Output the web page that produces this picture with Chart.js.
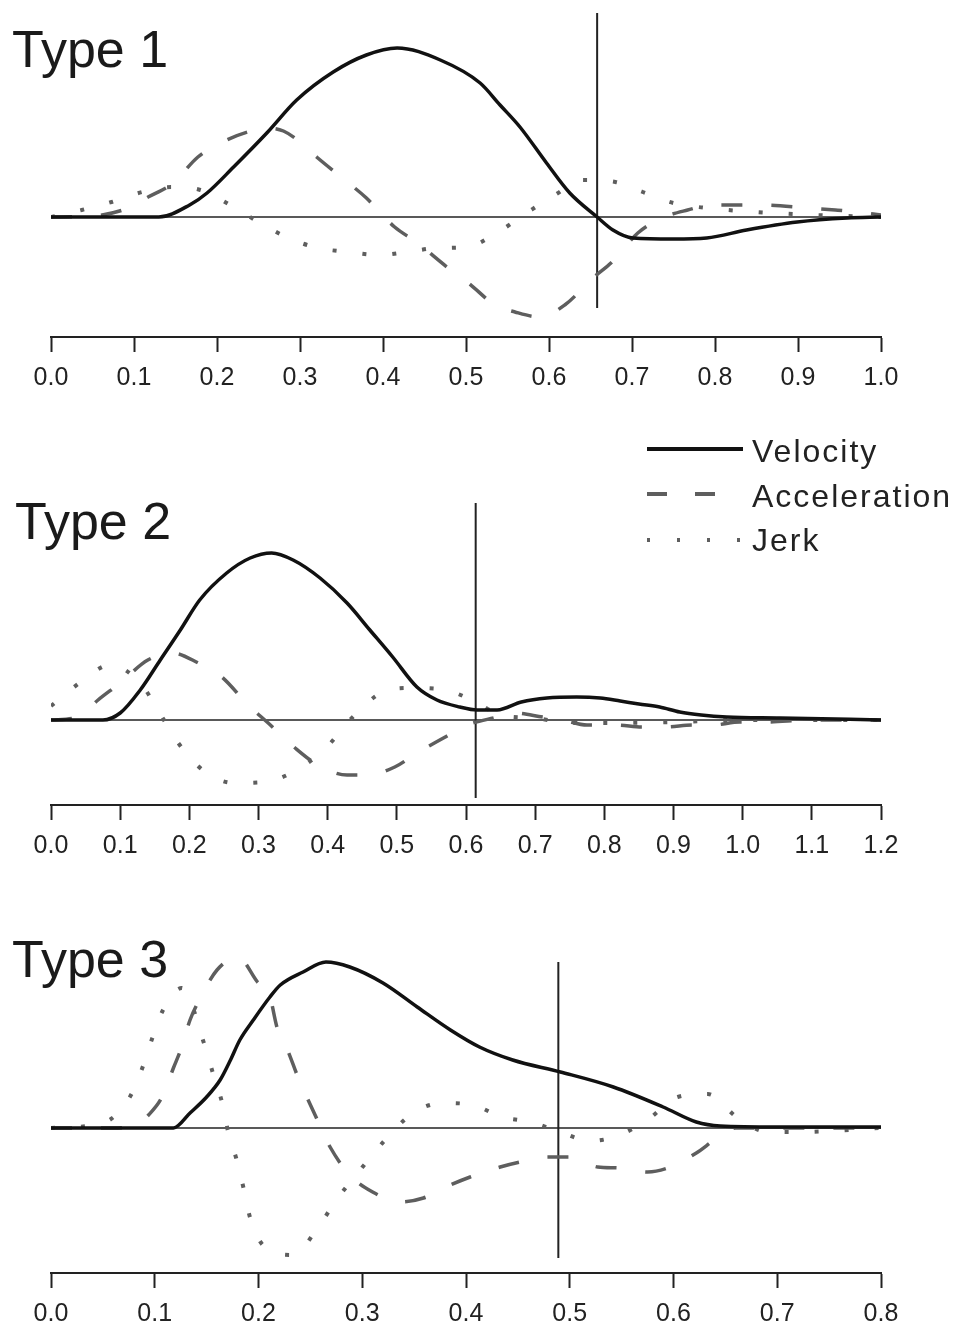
<!DOCTYPE html>
<html>
<head>
<meta charset="utf-8">
<script src="https://cdn.jsdelivr.net/npm/chart.js@4.4.0/dist/chart.umd.min.js"></script>
<style>
  body { margin:0; background:#fff; width:960px; height:1326px; position:relative; overflow:hidden; font-family:"Liberation Sans", Arial, sans-serif; }
  .panel { position:absolute; left:0; width:960px; }
  .title { position:absolute; font-size:52px; line-height:52px; color:#1a1a1a; }
  .leg { position:absolute; left:752px; font-size:32px; line-height:32px; letter-spacing:2px; color:#222; }
  svg { position:absolute; left:0; top:0; }
</style>
</head>
<body>
<div class="panel" style="top:0;height:400px"><canvas id="c1" width="960" height="400"></canvas></div>
<div class="panel" style="top:400px;height:470px"><canvas id="c2" width="960" height="470"></canvas></div>
<div class="panel" style="top:870px;height:456px"><canvas id="c3" width="960" height="456"></canvas></div>

<div class="title" style="left:12px;top:23px">Type 1</div>
<div class="title" style="left:15px;top:495px">Type 2</div>
<div class="title" style="left:12px;top:933px">Type 3</div>

<svg width="960" height="1326">
  <line x1="647" y1="449" x2="743" y2="449" stroke="#111" stroke-width="4"/>
  <line x1="647" y1="494" x2="717" y2="494" stroke="#5e5e5e" stroke-width="4" stroke-dasharray="20,28"/>
  <line x1="647" y1="540" x2="742" y2="540" stroke="#5e5e5e" stroke-width="4" stroke-dasharray="3,27"/>
</svg>
<div class="leg" style="top:435px">Velocity</div>
<div class="leg" style="top:480px">Acceleration</div>
<div class="leg" style="top:524px">Jerk</div>

<script>
// ---- Type 1 ----
const velX1 = [0, 0.05, 0.10, 0.13, 0.167, 0.188, 0.22, 0.26, 0.296, 0.34, 0.38, 0.417, 0.469, 0.517, 0.541, 0.565, 0.597, 0.625, 0.658, 0.677, 0.701, 0.75, 0.79, 0.838, 0.899, 0.959, 1.0];
const velY1 = [0, 0, 0, 0, 12, 24, 50, 84, 117, 145, 162, 169, 157, 134, 112, 90, 54, 24, 0, -13, -21, -22, -21, -13, -5, -1, 0];
const accX1 = [0, 0.05, 0.09, 0.117, 0.147, 0.177, 0.204, 0.237, 0.26, 0.28, 0.30, 0.32, 0.354, 0.38, 0.414, 0.44, 0.477, 0.503, 0.535, 0.559, 0.589, 0.619, 0.653, 0.676, 0.707, 0.736, 0.767, 0.796, 0.852, 0.912, 0.945, 0.972, 1.0];
const accY1 = [0, 1, 8, 20, 34, 60, 74, 85, 89, 86, 75, 60, 37, 19, -10, -25, -50, -66, -88, -95, -100, -88, -61, -45, -16, -1, 7, 12, 12, 9, 7, 5, 2];
const jerkX1 = [0, 0.037, 0.073, 0.11, 0.145, 0.18, 0.216, 0.25, 0.286, 0.322, 0.358, 0.394, 0.429, 0.465, 0.501, 0.537, 0.573, 0.607, 0.641, 0.68, 0.713, 0.75, 0.79, 0.85, 0.92, 1.0];
const jerkY1 = [0, 7, 15, 25, 30, 27, 12, -5, -21, -31, -35, -38, -35, -31, -30, -16, 4, 22, 37, 35, 25, 14, 9, 5, 2, 0];
const markX1 = 0.658;
const markY1 = [204, -91];
const ticks1 = ['0.0', '0.1', '0.2', '0.3', '0.4', '0.5', '0.6', '0.7', '0.8', '0.9', '1.0'];

// ---- Type 2 ----
const velX2 = [0, 0.05, 0.075, 0.1, 0.129, 0.158, 0.187, 0.215, 0.254, 0.288, 0.319, 0.35, 0.389, 0.428, 0.461, 0.494, 0.529, 0.558, 0.591, 0.616, 0.645, 0.68, 0.717, 0.76, 0.794, 0.823, 0.85, 0.88, 0.909, 0.94, 0.977, 1.054, 1.2];
const velY2 = [0, 0, 0, 7, 30, 60, 90, 120, 147, 162, 167, 160, 142, 117, 90, 63, 33, 20, 13, 10, 10, 18, 22, 23, 22, 19, 16, 13, 8, 5, 3, 2, 0];
const accX2 = [0, 0.04, 0.068, 0.1, 0.14, 0.175, 0.213, 0.247, 0.285, 0.314, 0.353, 0.386, 0.428, 0.458, 0.497, 0.529, 0.57, 0.598, 0.645, 0.668, 0.711, 0.74, 0.775, 0.818, 0.854, 0.888, 0.928, 0.957, 0.996, 1.03, 1.1, 1.2];
const accY2 = [0, 3, 20, 37, 60, 67, 57, 43, 15, -3, -28, -45, -55, -55, -47, -33, -17, -6, 3, 7, 3, 0, -5, -5, -7, -7, -5, -5, -2, -2, 0, 0];
const jerkX2 = [0, 0.045, 0.085, 0.129, 0.158, 0.184, 0.223, 0.266, 0.309, 0.35, 0.396, 0.435, 0.48, 0.52, 0.562, 0.609, 0.65, 0.7, 0.75, 0.8, 0.9, 1.0, 1.2];
const jerkY2 = [14, 39, 55, 37, 6, -23, -52, -63, -62, -52, -29, 2, 28, 32, 31, 20, 5, 2, -3, -3, -2, 0, 0];
const markX2 = 0.614;
const markY2 = [217, -78];
const ticks2 = ['0.0', '0.1', '0.2', '0.3', '0.4', '0.5', '0.6', '0.7', '0.8', '0.9', '1.0', '1.1', '1.2'];

// ---- Type 3 ----
const velX3 = [0, 0.05, 0.1, 0.118, 0.134, 0.150, 0.163, 0.173, 0.182, 0.195, 0.211, 0.221, 0.243, 0.265, 0.288, 0.32, 0.353, 0.385, 0.413, 0.445, 0.491, 0.542, 0.59, 0.622, 0.645, 0.7, 0.8];
const velY3 = [0, 0, 0, 0, 15, 31, 48, 68, 88, 108, 131, 143, 156, 166, 161, 145, 121, 98, 81, 68, 56, 41, 21, 6, 2, 1, 1];
const accX3 = [0, 0.06, 0.085, 0.094, 0.107, 0.118, 0.126, 0.134, 0.144, 0.16, 0.18, 0.199, 0.211, 0.218, 0.228, 0.238, 0.247, 0.259, 0.269, 0.288, 0.31, 0.336, 0.359, 0.385, 0.404, 0.433, 0.452, 0.479, 0.5, 0.527, 0.548, 0.575, 0.597, 0.622, 0.642, 0.66, 0.7, 0.8];
const accY3 = [0, 0, 5, 13, 31, 60, 81, 108, 130, 158, 171, 146, 131, 100, 78, 51, 30, 3, -19, -47, -64, -74, -70, -57, -49, -39, -34, -29, -29, -39, -40, -44, -39, -25, -10, 0, 0, 0];
const jerkX3 = [0, 0.05, 0.076, 0.088, 0.097, 0.108, 0.126, 0.148, 0.156, 0.165, 0.171, 0.179, 0.186, 0.192, 0.206, 0.233, 0.257, 0.275, 0.298, 0.322, 0.349, 0.378, 0.406, 0.435, 0.462, 0.491, 0.52, 0.548, 0.576, 0.604, 0.633, 0.661, 0.691, 0.72, 0.8];
const jerkY3 = [0, 5, 31, 60, 88, 118, 140, 83, 55, 25, -5, -32, -62, -90, -119, -127, -100, -72, -42, -12, 15, 25, 23, 11, 6, -4, -13, -7, 9, 31, 34, 11, -4, -4, 0];
const markX3 = 0.489;
const markY3 = [166, -130];
const ticks3 = ['0.0', '0.1', '0.2', '0.3', '0.4', '0.5', '0.6', '0.7', '0.8'];

const pts = (xs, ys) => xs.map((x, i) => ({x: x, y: ys[i]}));

function panel(id, vx, vy, ax, ay, jx, jy, mx, my, ticks, yMin, yMax, axisH) {
  const xMax = parseFloat(ticks[ticks.length - 1]);
  new Chart(document.getElementById(id), {
    type: 'line',
    data: {
      datasets: [
        { data: pts(vx, vy), borderColor: '#111', borderWidth: 3.5, cubicInterpolationMode: 'monotone' },
        { data: pts(ax, ay), borderColor: '#5e5e5e', borderWidth: 3.5, borderDash: [21, 29], cubicInterpolationMode: 'monotone' },
        { data: pts(jx, jy), borderColor: '#5e5e5e', borderWidth: 4, borderDash: [4, 26], cubicInterpolationMode: 'monotone' },
        { data: [{x: 0, y: 0}, {x: xMax, y: 0}], borderColor: '#222', borderWidth: 1.5 },
        { data: [{x: mx, y: my[0]}, {x: mx, y: my[1]}], borderColor: '#222', borderWidth: 2 }
      ]
    },
    options: {
      responsive: false,
      animation: false,
      events: [],
      elements: { point: { radius: 0 } },
      layout: { padding: { left: 51, right: 79, top: 0, bottom: 0 } },
      plugins: { legend: { display: false }, tooltip: { enabled: false } },
      scales: {
        x: {
          type: 'linear', min: 0, max: xMax,
          afterBuildTicks: s => { s.ticks = ticks.map(t => ({value: parseFloat(t)})); },
          afterFit: s => { s.height = axisH; },
          grid: { drawOnChartArea: false, drawTicks: true, tickLength: 15, tickColor: '#222', tickWidth: 2 },
          border: { display: true, color: '#222', width: 2 },
          ticks: {
            padding: 11, color: '#222', maxRotation: 0, autoSkip: false,
            font: { family: '"Liberation Sans", Arial, sans-serif', size: 25 },
            callback: (v, i) => ticks[i]
          }
        },
        y: { type: 'linear', display: false, min: yMin, max: yMax }
      }
    }
  });
}

panel('c1', velX1, velY1, accX1, accY1, jerkX1, jerkY1, markX1, markY1, ticks1, -120, 217, 63);
panel('c2', velX2, velY2, accX2, accY2, jerkX2, jerkY2, markX2, markY2, ticks2, -85, 320, 65);
panel('c3', velX3, velY3, accX3, accY3, jerkX3, jerkY3, markX3, markY3, ticks3, -145, 258, 53);
</script>
</body>
</html>
